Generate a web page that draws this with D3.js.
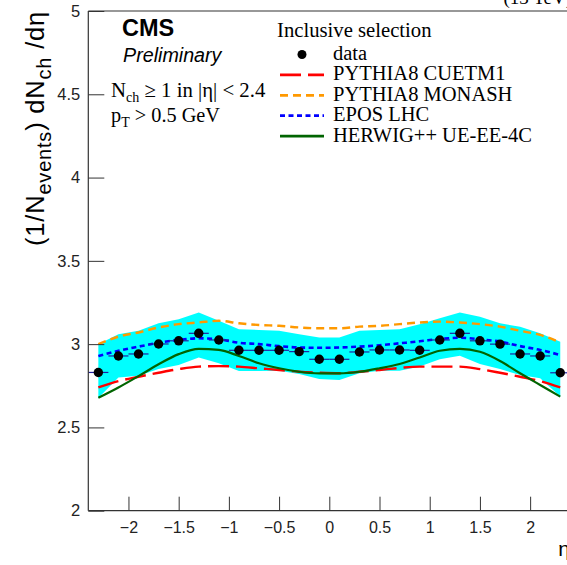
<!DOCTYPE html>
<html>
<head>
<meta charset="utf-8">
<script src="https://cdn.jsdelivr.net/npm/d3@7"></script>
<style>
  body { margin: 0; background: #fff; }
  svg { display: block; }
</style>
</head>
<body>
<div id="chart"></div>
<script>
// bin centres in eta and the measured / simulated dN/deta values
var etaBins = [-2.3, -2.1, -1.9, -1.7, -1.5, -1.3, -1.1, -0.9, -0.7, -0.5, -0.3, -0.1,
               0.1, 0.3, 0.5, 0.7, 0.9, 1.1, 1.3, 1.5, 1.7, 1.9, 2.1, 2.3];
var dataVals = [2.830, 2.929, 2.941, 3.001, 3.020, 3.065, 3.025, 2.963, 2.963, 2.963, 2.955, 2.909,
                2.909, 2.953, 2.965, 2.965, 2.963, 3.025, 3.065, 3.020, 3.000, 2.941, 2.929, 2.828];
var bandHigh = [3.000, 3.060, 3.080, 3.125, 3.150, 3.190, 3.140, 3.090, 3.085, 3.080, 3.060, 3.040,
                3.040, 3.080, 3.085, 3.090, 3.120, 3.155, 3.190, 3.165, 3.125, 3.105, 3.065, 3.015];
var bandLow = [2.676, 2.800, 2.810, 2.850, 2.875, 2.920, 2.885, 2.838, 2.838, 2.840, 2.820, 2.790,
               2.785, 2.825, 2.840, 2.840, 2.865, 2.909, 2.930, 2.880, 2.850, 2.815, 2.795, 2.685];
var cuetm1 = [2.740, 2.778, 2.804, 2.828, 2.850, 2.865, 2.868, 2.865, 2.855, 2.845, 2.834, 2.828,
              2.825, 2.834, 2.845, 2.857, 2.865, 2.865, 2.865, 2.850, 2.828, 2.804, 2.778, 2.740];
var monash = [3.000, 3.045, 3.070, 3.100, 3.120, 3.130, 3.140, 3.125, 3.115, 3.110, 3.100, 3.095,
              3.095, 3.105, 3.110, 3.120, 3.130, 3.135, 3.130, 3.120, 3.105, 3.080, 3.055, 3.010];
var epos = [2.929, 2.960, 2.985, 3.008, 3.025, 3.035, 3.029, 3.008, 3.000, 2.988, 2.980, 2.978,
            2.980, 2.985, 2.993, 3.005, 3.017, 3.031, 3.038, 3.029, 3.015, 2.988, 2.965, 2.935];
var herwig = [2.678, 2.740, 2.808, 2.879, 2.940, 2.972, 2.965, 2.929, 2.885, 2.855, 2.834, 2.825,
              2.825, 2.834, 2.855, 2.881, 2.920, 2.960, 2.972, 2.954, 2.899, 2.825, 2.755, 2.685];
var binHalfWidth = 0.1;

var xTicks = [-2, -1.5, -1, -0.5, 0, 0.5, 1, 1.5, 2];
var yTicks = [2, 2.5, 3, 3.5, 4, 4.5, 5];
var legendLabels = ["data", "PYTHIA8 CUETM1", "PYTHIA8 MONASH", "EPOS LHC", "HERWIG++ UE-EE-4C"];

var W = 567, H = 565;
var svg = d3.select("#chart").append("svg")
    .attr("width", W)
    .attr("height", H);

var x = d3.scaleLinear().domain([-2.4, 2.4]).range([88.3, 570.3]);
var y = d3.scaleLinear().domain([2, 5]).range([510.7, 11]);

var sans = "'Liberation Sans', Arial, sans-serif";
var serif = "'Liberation Serif', 'Times New Roman', serif";

// systematic band
var band = etaBins.map(function(e, i) { return {e: e, lo: bandLow[i], hi: bandHigh[i]}; });
svg.append("path")
  .datum(band)
  .attr("fill", "#00ffff")
  .attr("d", d3.area()
    .x(function(d) { return x(d.e); })
    .y0(function(d) { return y(d.lo); })
    .y1(function(d) { return y(d.hi); }));

// model curves
var models = [
  {vals: cuetm1, color: "#ff0000", dash: "21,7", width: 2.4},
  {vals: monash, color: "#ff9900", dash: "8,5", width: 2.4},
  {vals: epos, color: "#0000ff", dash: "5,3.5", width: 2.6},
  {vals: herwig, color: "#006400", dash: null, width: 2.2}
];
var line = d3.line()
  .x(function(d) { return x(d[0]); })
  .y(function(d) { return y(d[1]); })
  .curve(d3.curveMonotoneX);
models.forEach(function(m) {
  svg.append("path")
    .datum(etaBins.map(function(e, i) { return [e, m.vals[i]]; }))
    .attr("fill", "none")
    .attr("stroke", m.color)
    .attr("stroke-width", m.width)
    .attr("stroke-dasharray", m.dash)
    .attr("d", line);
});

// data: horizontal bars then markers
var pts = etaBins.map(function(e, i) { return {e: e, v: dataVals[i]}; });
svg.selectAll(".xerr").data(pts).enter().append("line")
  .attr("x1", function(d) { return x(d.e - binHalfWidth); })
  .attr("x2", function(d) { return x(d.e + binHalfWidth); })
  .attr("y1", function(d) { return y(d.v); })
  .attr("y2", function(d) { return y(d.v); })
  .attr("stroke", "#2020a0")
  .attr("stroke-width", 1.2);
svg.selectAll(".pt").data(pts).enter().append("circle")
  .attr("cx", function(d) { return x(d.e); })
  .attr("cy", function(d) { return y(d.v); })
  .attr("r", 4.7)
  .attr("fill", "#000");

// frame lines
var axisColor = "#333";
svg.append("line").attr("x1", x(-2.4)).attr("x2", W).attr("y1", y(5)).attr("y2", y(5))
  .attr("stroke", axisColor).attr("stroke-width", 1.2);

// x axis
var xMinor = d3.range(-23, 24).map(function(k) { return k / 10; });
var gx = svg.append("g").attr("transform", "translate(0," + y(2) + ")");
gx.call(d3.axisBottom(x).tickValues(xMinor).tickSize(-7).tickFormat(""));
gx.call(d3.axisBottom(x).tickValues(xTicks).tickSize(-14).tickPadding(11)
  .tickFormat(d3.format("")));
gx.selectAll(".domain").attr("d", "M" + x(-2.4) + ",0H" + W).attr("stroke", axisColor).attr("stroke-width", 1.2);
gx.selectAll(".tick line").attr("stroke", axisColor);
gx.selectAll("text").attr("font-family", sans).attr("font-size", 16).attr("fill", "#222");

// y axis
var yMinor = d3.range(20, 51).map(function(k) { return k / 10; });
var gy = svg.append("g").attr("transform", "translate(" + x(-2.4) + ",0)");
gy.call(d3.axisLeft(y).tickValues(yMinor).tickSize(-8).tickFormat(""));
gy.call(d3.axisLeft(y).tickValues(yTicks).tickSize(-16).tickPadding(8)
  .tickFormat(d3.format("")));
gy.selectAll(".domain").attr("d", "M0," + y(2) + "V" + y(5)).attr("stroke", axisColor).attr("stroke-width", 1.2);
gy.selectAll(".tick line").attr("stroke", axisColor);
gy.selectAll("text").attr("font-family", sans).attr("font-size", 16.5).attr("fill", "#222");

// axis titles
svg.append("text")
  .attr("x", 570).attr("y", 556)
  .attr("text-anchor", "end")
  .attr("font-family", sans).attr("font-size", 21)
  .text("η");

var yt = svg.append("text")
  .attr("transform", "translate(44,11) rotate(-90)")
  .attr("text-anchor", "end")
  .attr("font-family", sans).attr("font-size", 25.5)
  .attr("letter-spacing", 0.8);
yt.append("tspan").text("(1/N");
yt.append("tspan").attr("font-size", 20).attr("dy", 7).text("events");
yt.append("tspan").attr("dy", -7).text(") dN");
yt.append("tspan").attr("font-size", 20).attr("dy", 7).text("ch");
yt.append("tspan").attr("dy", -7).text("  /dη");

// top-right label, mostly cut off
svg.append("text")
  .attr("x", 572).attr("y", 4)
  .attr("text-anchor", "end")
  .attr("font-family", serif).attr("font-size", 19)
  .text("(13 TeV)");

// CMS labels
svg.append("text").attr("x", 122).attr("y", 36)
  .attr("font-family", sans).attr("font-weight", "bold").attr("font-size", 23.5)
  .text("CMS");
svg.append("text").attr("x", 123).attr("y", 62)
  .attr("font-family", sans).attr("font-style", "italic").attr("font-size", 19.7)
  .text("Preliminary");

var t1 = svg.append("text").attr("x", 111).attr("y", 97)
  .attr("font-family", serif).attr("font-size", 20.8);
t1.append("tspan").text("N");
t1.append("tspan").attr("font-size", 14).attr("dy", 5).text("ch");
t1.append("tspan").attr("dy", -5).text(" ≥ 1 in |η| < 2.4");

var t2 = svg.append("text").attr("x", 111).attr("y", 122)
  .attr("font-family", serif).attr("font-size", 20.3);
t2.append("tspan").text("p");
t2.append("tspan").attr("font-size", 14).attr("dy", 5).text("T");
t2.append("tspan").attr("dy", -5).text(" > 0.5 GeV");

// legend
svg.append("text").attr("x", 277).attr("y", 37)
  .attr("font-family", serif).attr("font-size", 20.7)
  .text("Inclusive selection");

var legTop = 54.5, legStep = 20.4;
legendLabels.forEach(function(lbl, i) {
  var ly = legTop + i * legStep;
  if (i === 0) {
    svg.append("circle").attr("cx", 302).attr("cy", ly).attr("r", 4.5).attr("fill", "#000");
  } else {
    var m = models[i - 1];
    svg.append("line")
      .attr("x1", 280).attr("x2", 324).attr("y1", ly).attr("y2", ly)
      .attr("stroke", m.color).attr("stroke-width", 2.8)
      .attr("stroke-dasharray", m.dash);
  }
  svg.append("text").attr("x", 333).attr("y", ly + 5.5)
    .attr("font-family", serif).attr("font-size", 20.5)
    .text(lbl);
});
</script>
</body>
</html>
